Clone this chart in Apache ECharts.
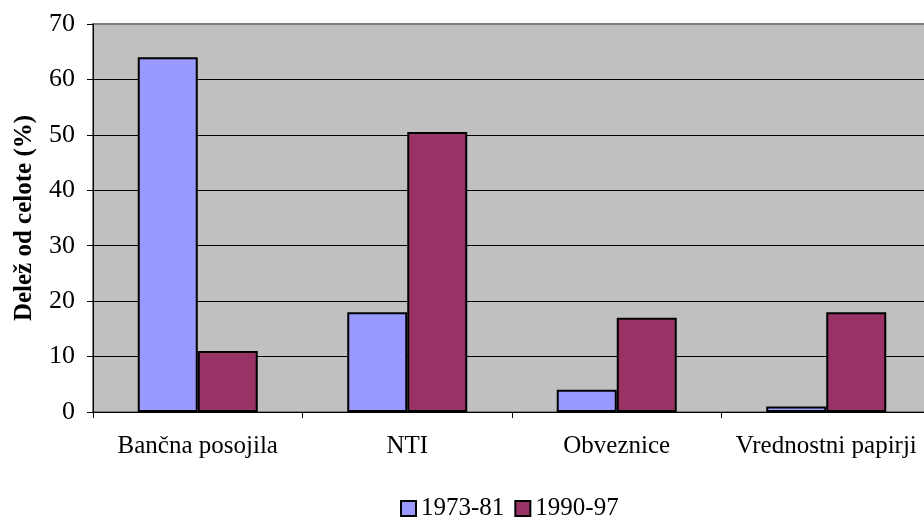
<!DOCTYPE html>
<html>
<head>
<meta charset="utf-8">
<script src="https://cdn.jsdelivr.net/npm/echarts@6/dist/echarts.min.js"></script>
<style>
  html, body { margin: 0; padding: 0; background: #ffffff; overflow: hidden; }
  #chart { width: 924px; height: 520px; }
</style>
</head>
<body>
<div id="chart"></div>
<script>
// Financing structure shares by period
const categories = ['Bančna posojila', 'NTI', 'Obveznice', 'Vrednostni papirji'];
const series1973 = [64, 18, 4, 1];
const series1990 = [11, 50.5, 17, 18];
const seriesNames = ['1973-81', '1990-97'];
const yTicks = { min: 0, max: 70, interval: 10 };

const FONT = '"Liberation Serif", "Times New Roman", serif';

const chart = echarts.init(document.getElementById('chart'), null, { renderer: 'canvas' });

chart.setOption({
  animation: false,
  textStyle: { fontFamily: FONT },
  grid: {
    left: 93, top: 24, width: 838, height: 388,
    show: true, backgroundColor: '#C0C0C0', borderColor: '#808080', borderWidth: 2,
    containLabel: false,
    outerBoundsMode: 'none'
  },
  legend: {
    top: 491, left: 395,
    itemWidth: 15, itemHeight: 15, itemGap: 10,
    icon: 'rect',
    textStyle: { fontFamily: FONT, fontSize: 25, color: '#000' },
    data: seriesNames.map(n => ({ name: n, itemStyle: { borderColor: '#000', borderWidth: 2 } }))
  },
  xAxis: {
    type: 'category',
    data: categories,
    axisLine: { lineStyle: { color: '#000', width: 1 } },
    axisTick: { show: true, alignWithLabel: false, length: 6, lineStyle: { color: '#000' } },
    axisLabel: { fontFamily: FONT, fontSize: 25, color: '#000', margin: 22, interval: 0 },
    splitLine: { show: false }
  },
  yAxis: {
    type: 'value',
    min: yTicks.min, max: yTicks.max, interval: yTicks.interval,
    name: 'Delež od celote (%)',
    nameLocation: 'middle',
    nameGap: 56,
    nameRotate: 90,
    nameTextStyle: { fontFamily: FONT, fontSize: 25, fontWeight: 'bold', color: '#000' },
    axisLine: { show: true, lineStyle: { color: '#000', width: 1 } },
    axisTick: { show: true, inside: false, length: 6, lineStyle: { color: '#000' } },
    axisLabel: { fontFamily: FONT, fontSize: 26, color: '#000', margin: 18 },
    splitLine: { show: true, showMaxLine: false, lineStyle: { color: '#000', width: 1 } }
  },
  series: [
    {
      name: seriesNames[0], type: 'bar', data: series1973,
      barWidth: 60, barGap: '0%',
      itemStyle: { color: '#9999FF', borderColor: '#000', borderWidth: 2 }
    },
    {
      name: seriesNames[1], type: 'bar', data: series1990,
      barWidth: 60, barGap: '0%',
      itemStyle: { color: '#993366', borderColor: '#000', borderWidth: 2 }
    }
  ]
});
</script>
</body>
</html>
